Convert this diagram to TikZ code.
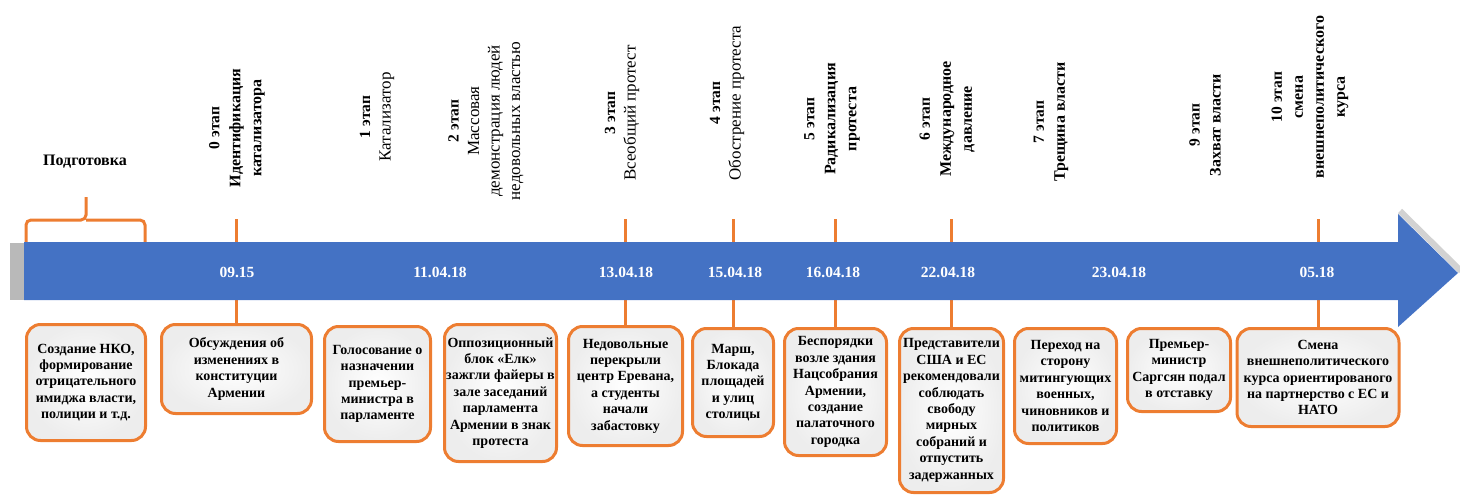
\documentclass[tikz,border=0pt]{standalone}
\usepackage{fontspec}
\setmainfont{Liberation Serif}
\definecolor{bleu}{HTML}{4472C4}
\definecolor{orangef}{HTML}{ED7D31}
\newcommand\netap[1]{{\fontsize{15.5}{17}\selectfont\bfseries #1}}

\begin{document}
\begin{tikzpicture}[x=1pt,y=-1pt]
\tikzstyle{boite}=[draw=orangef, line width=3pt, rounded corners=14pt, inner color=white, outer color=gray!14, align=center, inner sep=1pt, font=\fontsize{14}{16.4}\selectfont\bfseries]
\tikzstyle{trait}=[draw=orangef, line width=3pt]
\tikzstyle{etape}=[rotate=90, align=center, font=\fontsize{17}{20.5}\selectfont]
\tikzstyle{etapeg}=[etape, font=\fontsize{16}{21}\selectfont\bfseries]
\tikzstyle{jour}=[text=white, font=\fontsize{15.5}{18}\selectfont\bfseries]
\useasboundingbox (0,0) rectangle (1460,495);
\coordinate (haut) at (0,219);

\node[boite, minimum width=119pt, minimum height=116pt] (b1) at (86,382.5) {Создание НКО,\\ формирование\\ отрицательного\\ имиджа власти,\\ полиции и т.д.};
\node[boite, minimum width=150pt, minimum height=89pt] (b2) at (236.5,369) {Обсуждения об\\ изменениях в\\ конституции\\ Армении};
\node[boite, minimum width=106pt, minimum height=115pt] (b3) at (377.5,384) {Голосование о\\ назначении\\ премьер-\\ министра в\\ парламенте};
\node[boite, minimum width=112pt, minimum height=137pt] (b4) at (500.5,393) {Оппозиционный\\ блок «Елк»\\ зажгли файеры в\\ зале заседаний\\ парламента\\ Армении в знак\\ протеста};
\node[boite, minimum width=114pt, minimum height=119pt] (b5) at (625.5,386) {Недовольные\\ перекрыли\\ центр Еревана,\\ а студенты\\ начали\\ забастовку};
\node[boite, minimum width=81pt, minimum height=108pt] (b6) at (733,382.5) {Марш,\\ Блокада\\ площадей\\ и улиц\\ столицы};
\node[boite, minimum width=102pt, minimum height=127pt] (b7) at (835.5,392) {Беспорядки\\ возле здания\\ Нацсобрания\\ Армении,\\ создание\\ палаточного\\ городка};
\node[boite, minimum width=104pt, minimum height=164pt] (b8) at (951.5,410.5) {Представители\\ США и ЕС\\ рекомендовали\\ соблюдать\\ свободу\\ мирных\\ собраний и\\ отпустить\\ задержанных};
\node[boite, minimum width=102pt, minimum height=115pt] (b9) at (1065.5,386) {Переход на\\ сторону\\ митингующих\\ военных,\\ чиновников и\\ политиков};
\node[boite, minimum width=103pt, minimum height=83pt] (b10) at (1179,370) {Премьер-\\ министр\\ Саргсян подал\\ в отставку};
\node[boite, minimum width=162pt, minimum height=98pt] (b11) at (1318,377.5) {Смена\\ внешнеполитического\\ курса ориентированого\\ на партнерство с ЕС и\\ НАТО};

\foreach \b in {b2,b5,b6,b7,b8,b11}
  \draw[trait] (\b.north) -- (\b.north |- haut);
\draw[trait, rounded corners=5pt] (26,242) |- (86,220) -- (86,197);
\draw[trait, rounded corners=5pt] (145,242) |- (86,220);

\fill[gray!55] (10,243) rectangle (25,300);
\draw[gray!35, line width=6pt] (1400,211) -- (1461,271);
\fill[bleu] (24,242) -- (1398,242) -- (1398,214) -- (1458,273) -- (1398,327) -- (1398,300) -- (24,300) -- cycle;

\node[jour] (d1) at (237,272) {09.15};
\node[jour] (d2) at (440,272) {11.04.18};
\node[jour] (d3) at (626,272) {13.04.18};
\node[jour] (d4) at (735,272) {15.04.18};
\node[jour] (d5) at (833,272) {16.04.18};
\node[jour] (d6) at (948,272) {22.04.18};
\node[jour] (d7) at (1119,272) {23.04.18};
\node[jour] (d8) at (1317,272) {05.18};

\node[font=\fontsize{16}{19}\selectfont\bfseries] (prep) at (85,162) {Подготовка};
\node[etapeg] (l0) at (237,128) {\netap{0 этап}\\ Идентификация\\ катализатора};
\node[etape] (l1) at (377,117) {\netap{1 этап}\\ Катализатор};
\node[etape] (l2) at (486,121) {\netap{2 этап}\\ Массовая\\ демонстрация людей\\ недовольных властью};
\node[etape] (l3) at (622,113) {\netap{3 этап}\\ Всеобщий протест};
\node[etape] (l4) at (727,103) {\netap{4 этап}\\ Обострение протеста};
\node[etapeg] (l5) at (832,119) {\netap{5 этап}\\ Радикализация\\ протеста};
\node[etapeg] (l6) at (947,119) {\netap{6 этап}\\ Международное\\ давление};
\node[etapeg] (l7) at (1051,122) {\netap{7 этап}\\ Трещина власти};
\node[etapeg] (l9) at (1205,125) {\netap{9 этап}\\ Захват власти};
\node[etapeg] (l10) at (1310,97) {\netap{10 этап}\\ смена\\ внешнеполитического\\ курса};
\end{tikzpicture}
\end{document}
